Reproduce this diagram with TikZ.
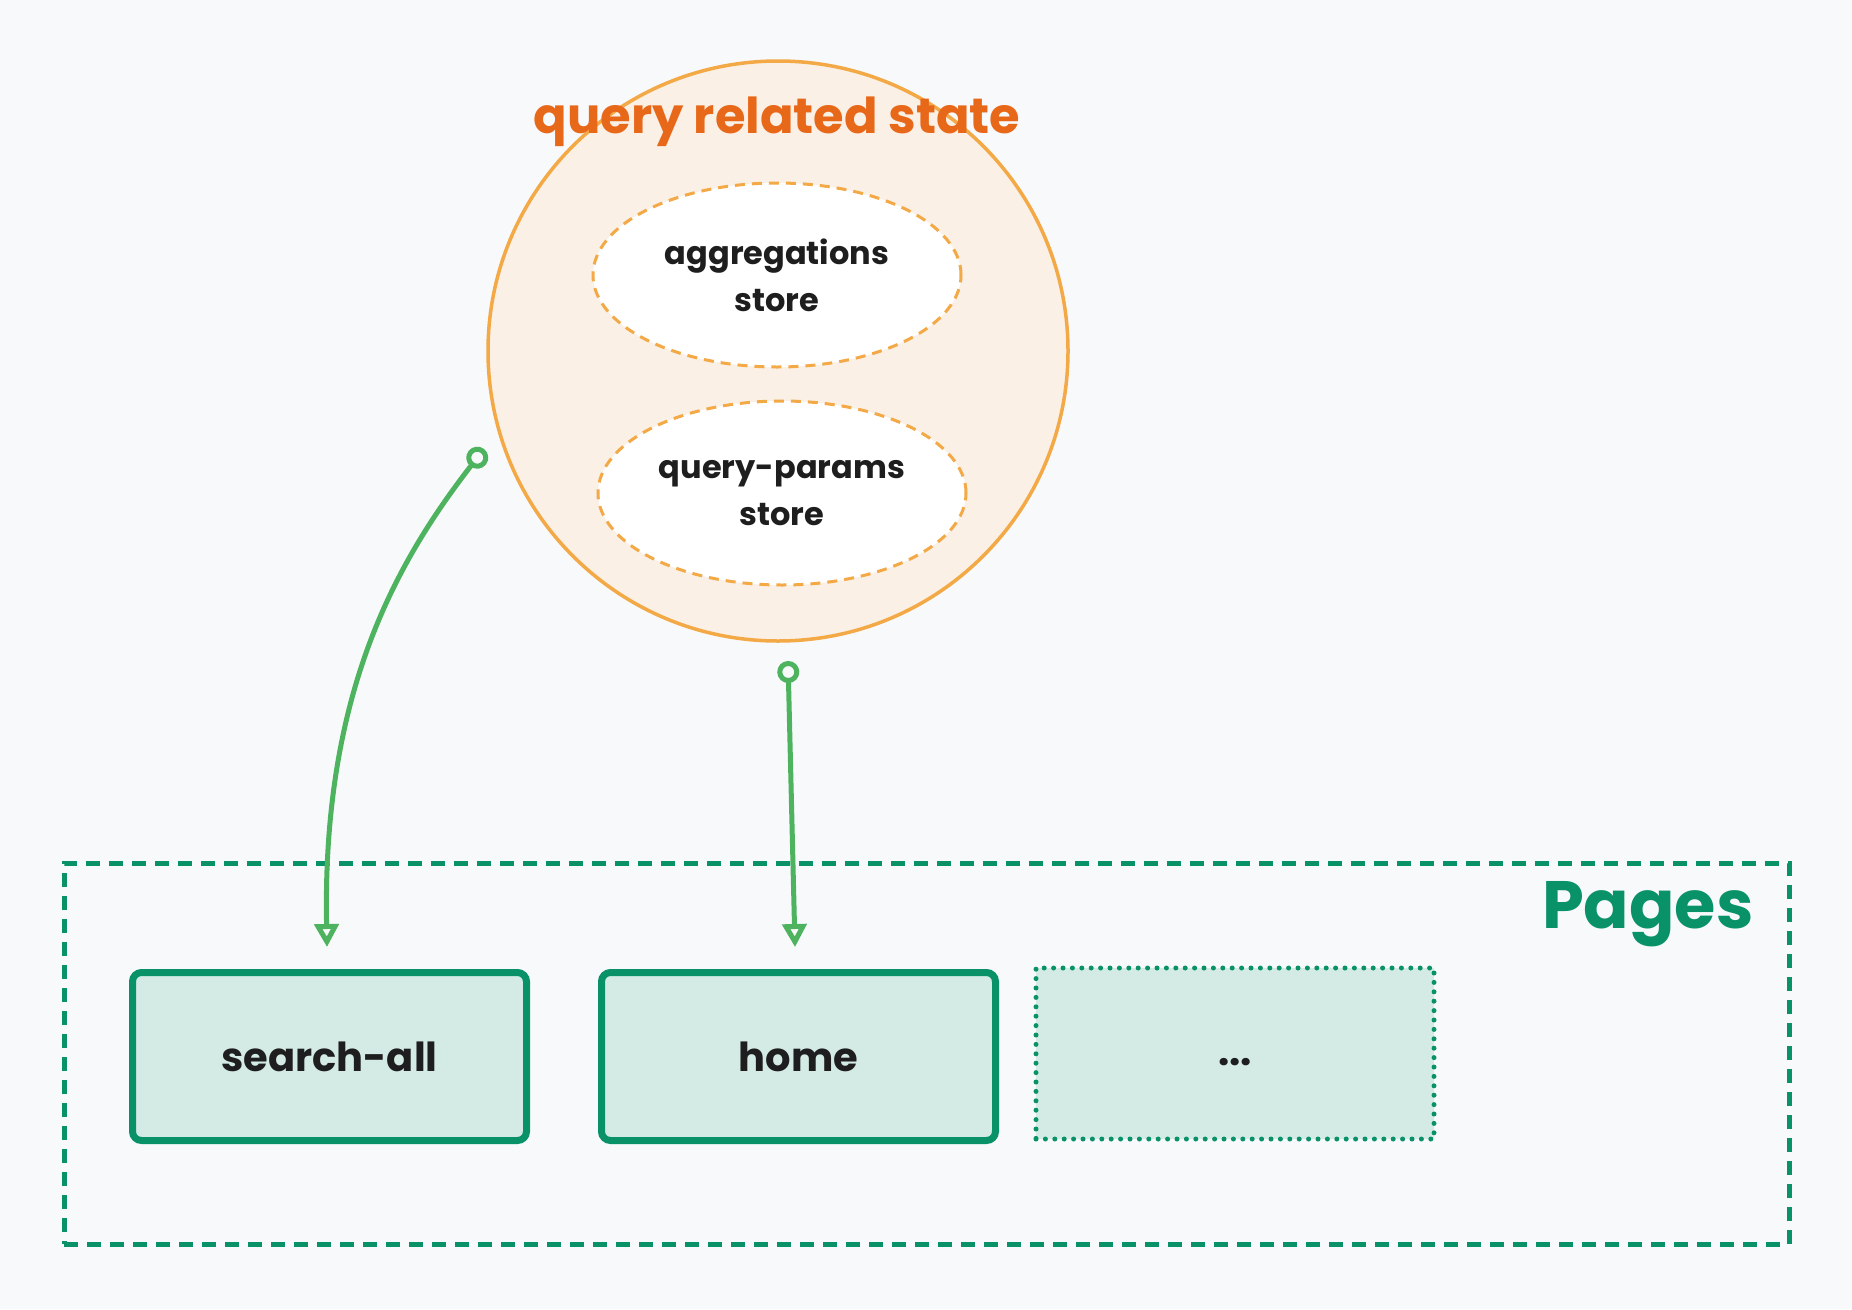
\documentclass[tikz,border=0pt]{standalone}
\usepackage{fontspec}
\setmainfont{Poppins}
\usetikzlibrary{arrows.meta,shapes.geometric}
\definecolor{bgc}{HTML}{F8F9FB}
\definecolor{orstroke}{HTML}{F4A947}
\definecolor{orfill}{HTML}{FAF0E5}
\definecolor{ortext}{HTML}{E8681A}
\definecolor{grarrow}{HTML}{4DB35E}
\definecolor{grdark}{HTML}{099268}
\definecolor{grfill}{HTML}{D4EBE5}
\definecolor{ink}{HTML}{1E1E1E}
\tikzset{
  storeell/.style={ellipse, draw=orstroke, fill=white, line width=3pt, dash pattern=on 10pt off 7pt,
    minimum width=368pt, minimum height=184pt, inner sep=0pt, align=center, text=ink,
    font=\fontsize{32}{47}\selectfont\bfseries},
  pagebox/.style={rectangle, rounded corners=9pt, draw=grdark, fill=grfill, line width=7pt,
    minimum width=394pt, minimum height=168pt, inner sep=0pt, text=ink,
    font=\fontsize{40}{48}\selectfont\bfseries},
  dotbox/.style={rectangle, draw=grdark, fill=grfill, line width=5pt, line cap=round,
    dash pattern=on 0pt off 9.4pt, minimum width=398pt, minimum height=171pt, inner sep=0pt,
    text=ink, font=\fontsize{40}{48}\selectfont\bfseries},
  link/.style={draw=grarrow, line width=5pt,
    {Circle[open,length=22pt,width=22pt]}-{Triangle[open,length=23pt,width=24pt]}},
}
\begin{document}
\begin{tikzpicture}[x=1pt,y=-1pt]
\fill[bgc] (0,0) rectangle (1852,1309);
\useasboundingbox (0,0) rectangle (1852,1309);
% group circle
\node[circle, draw=orstroke, fill=orfill, line width=3.5pt, minimum size=580pt, inner sep=0pt] (grp) at (778,351) {};
\node[text=ortext, font=\fontsize{49.5}{56}\selectfont\bfseries] (title) at (777,122) {query related state};
\node[storeell] (agg) at (777,275) {aggregations\\store};
\node[storeell] (qp) at (782,493) {query-params\\store};
% pages frame
\node[rectangle, draw=grdark, line width=5pt, dash pattern=on 14pt off 9pt,
  minimum width=1725pt, minimum height=381pt, inner sep=0pt] (frame) at (926.5,1053.5) {};
\node[anchor=east, text=grdark, font=\fontsize{67}{74}\selectfont\bfseries] (pages) at (1757,914) {Pages};
\node[pagebox] (sa) at (329.5,1056.5) {search-all};
\node[pagebox] (home) at (798.5,1056.5) {home};
\node[dotbox] (more) at (1235,1053.5) {};
\node[text=ink, font=\fontsize{40}{48}\selectfont\bfseries] (dots) at (1235,1062) {...};
% connectors
\coordinate (s1) at (484,449);
\coordinate (e1) at (327,947);
\coordinate (s2) at (788,661);
\coordinate (e2) at (795,947);
\draw[link] (s1) .. controls (398,560) and (322,690) .. (e1);
\draw[link] (s2) -- (e2);
\end{tikzpicture}
\end{document}
